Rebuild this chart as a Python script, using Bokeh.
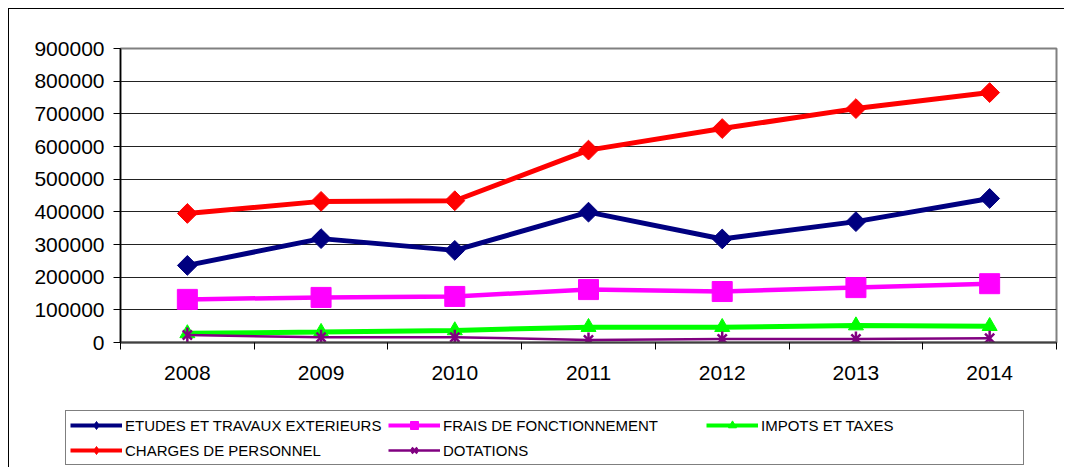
import numpy as np
from bokeh.plotting import figure
from bokeh.models import FixedTicker, NumeralTickFormatter, Range1d, Legend, LegendItem
from bokeh.embed import file_html
from bokeh.resources import INLINE

years = [2008, 2009, 2010, 2011, 2012, 2013, 2014]
etudes = [236000, 318000, 282000, 399000, 317000, 370000, 441000]
frais = [132000, 138000, 141000, 162000, 156000, 168000, 180000]
impots = [28000, 32000, 37000, 47000, 47000, 52000, 50000]
charges = [395000, 432000, 434000, 589000, 655000, 716000, 765000]
dotations = [23000, 16000, 16000, 8000, 11000, 11000, 13000]
y_ticks = [0, 100000, 200000, 300000, 400000, 500000, 600000, 700000, 800000, 900000]

series = [
    ("ETUDES ET TRAVAUX EXTERIEURS", etudes),
    ("FRAIS DE FONCTIONNEMENT", frais),
    ("IMPOTS ET TAXES", impots),
    ("CHARGES DE PERSONNEL", charges),
    ("DOTATIONS", dotations),
]
styles = {
    "ETUDES ET TRAVAUX EXTERIEURS": dict(color="#000080", lw=5, marker="square", angle=np.pi / 4, size=14, lmarker="diamond"),
    "FRAIS DE FONCTIONNEMENT": dict(color="#FF00FF", lw=4.5, marker="square", angle=0, size=20, lmarker="square"),
    "IMPOTS ET TAXES": dict(color="#00FF00", lw=5, marker="triangle", angle=0, size=15, lmarker="triangle"),
    "CHARGES DE PERSONNEL": dict(color="#FF0000", lw=5, marker="square", angle=np.pi / 4, size=14, lmarker="diamond"),
    "DOTATIONS": dict(color="#800080", lw=2.5, marker="x", angle=0, size=13, lmarker="x"),
}

xs = [i + 0.5 for i in range(len(years))]
FONT = "Liberation Sans"

p = figure(width=1056, height=391, output_backend="svg", toolbar_location=None,
           x_range=Range1d(0, len(years)), y_range=Range1d(0, 900000),
           min_border_left=111, min_border_right=9, min_border_top=39, min_border_bottom=58)
p.styles = {"margin-left": "8px", "margin-top": "8px",
            "border-left": "1px solid black", "border-top": "1px solid black"}

p.outline_line_color = "#808080"
p.outline_line_width = 2
p.background_fill_color = "white"

# axes
p.xaxis.ticker = FixedTicker(ticks=xs, minor_ticks=list(range(len(years) + 1)))
p.xaxis.major_label_overrides = {x: str(y) for x, y in zip(xs, years)}
p.xaxis.major_tick_in = 0
p.xaxis.major_tick_out = 0
p.xaxis.minor_tick_in = 0
p.xaxis.minor_tick_out = 7
p.xaxis.minor_tick_line_color = "black"
p.xaxis.axis_line_color = "#404040"
p.xaxis.axis_line_width = 2
p.xaxis.major_label_standoff = 16
p.xaxis.major_label_text_font = FONT
p.xaxis.major_label_text_font_size = "21px"
p.xaxis.major_label_text_color = "black"

p.yaxis.ticker = FixedTicker(ticks=y_ticks, minor_ticks=[])
p.yaxis.formatter = NumeralTickFormatter(format="0")
p.yaxis.major_tick_in = 0
p.yaxis.major_tick_out = 7
p.yaxis.major_tick_line_color = "black"
p.yaxis.axis_line_color = "black"
p.yaxis.axis_line_width = 1.5
p.yaxis.major_label_standoff = 9
p.yaxis.major_label_text_font = FONT
p.yaxis.major_label_text_font_size = "21px"
p.yaxis.major_label_text_color = "black"

p.xgrid.grid_line_color = None
p.ygrid.ticker = FixedTicker(ticks=y_ticks)
p.ygrid.grid_line_color = "#222222"
p.ygrid.grid_line_width = 1

# legend-only figure below the chart (its series lie outside its visible range)
pl = figure(width=1056, height=68, output_backend="svg", toolbar_location=None,
            x_range=Range1d(0, 1), y_range=Range1d(0, 1),
            min_border_left=0, min_border_right=0, min_border_top=0, min_border_bottom=0)
pl.styles = {"margin-left": "8px", "border-left": "1px solid black"}
pl.axis.visible = False
pl.grid.visible = False
pl.outline_line_color = None


def draw(fig, xv, yv, st, marker, angle, lw_line):
    rs = [fig.line(xv, yv, line_color=st["color"], line_width=lw_line)]
    rs.append(fig.scatter(xv, yv, marker=marker, angle=angle, size=st["size"],
                          fill_color=st["color"], line_color=st["color"],
                          line_width=st["lw"] if marker == "x" else 1))
    if marker == "x":
        rs.append(fig.scatter(xv, yv, marker="dash", angle=np.pi / 2, size=st["size"] + 2,
                              line_color=st["color"], line_width=st["lw"]))
    return rs


items = []
for name, vals in series:
    st = styles[name]
    draw(p, xs, vals, st, st["marker"], st["angle"], st["lw"])
    rl = draw(pl, xs, vals, st, st["lmarker"], 0, min(st["lw"], 4))
    items.append(LegendItem(label=name, renderers=rl))

legend = Legend(items=items, location=(56, 2), orientation="horizontal", ncols=3,
                glyph_width=52, glyph_height=20, label_standoff=3, label_width=258,
                spacing=5, padding=4, margin=0,
                label_text_font=FONT, label_text_font_size="15px", label_text_color="black",
                border_line_color="black", border_line_width=1,
                background_fill_color="white", background_fill_alpha=1)
pl.add_layout(legend, "center")

open("out.html", "w").write(file_html([p, pl], INLINE))
